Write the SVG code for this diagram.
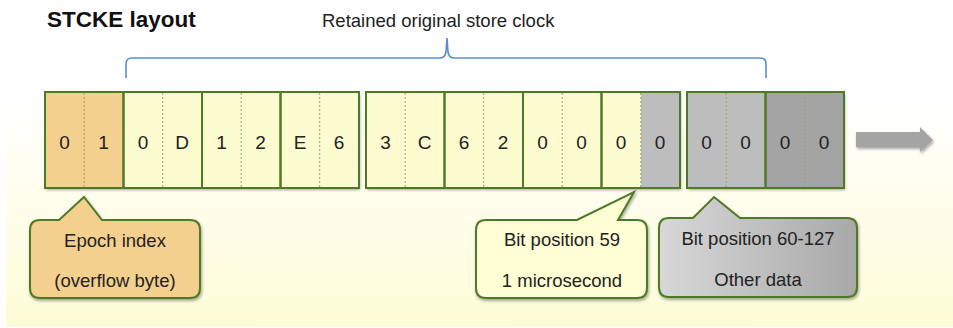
<svg xmlns="http://www.w3.org/2000/svg" width="953" height="328" viewBox="0 0 953 328">
<defs>
<linearGradient id="bg" x1="0" y1="0" x2="0" y2="1">
<stop offset="0" stop-color="#ffffff"/>
<stop offset="0.3" stop-color="#ffffff"/>
<stop offset="1" stop-color="#fdfcd6"/>
</linearGradient>
<linearGradient id="grayCall" x1="0" y1="0" x2="1" y2="0">
<stop offset="0" stop-color="#d8d8d8"/>
<stop offset="1" stop-color="#a8a8a8"/>
</linearGradient>
<filter id="sh" x="-10%" y="-10%" width="130%" height="130%">
<feDropShadow dx="1" dy="2" stdDeviation="1.5" flood-color="#000" flood-opacity="0.35"/>
</filter>
<style>
.byte{stroke:#4e7a27;stroke-width:2}
.div{stroke:#8aa865;stroke-width:1;stroke-dasharray:2 2}
.or{fill:#f4d08f}
.ye{fill:#fdfbd0}
.g1{fill:#bdbdbd}
.g2{fill:#a4a4a4}
.dg{font-family:"Liberation Sans",Arial,sans-serif;font-size:19px;fill:#222;text-anchor:middle}
.lbl{font-family:"Liberation Sans",Arial,sans-serif;font-size:18.5px;fill:#222;text-anchor:middle}
.call{stroke:#4e7a27;stroke-width:2;filter:url(#sh)}
</style>
</defs>
<rect x="6" y="0" width="947" height="327" fill="url(#bg)"/>
<text x="47" y="27" font-family="Liberation Sans,Arial,sans-serif" font-size="22.5" font-weight="bold" fill="#111">STCKE layout</text>
<text x="322" y="27" font-family="Liberation Sans,Arial,sans-serif" font-size="18.5" fill="#222">Retained original store clock</text>
<g id="connectors">
<path d="M126 78 L126 64 Q126 58 132 58 L440 58 Q445 58 446 52 L447 38 L448 52 Q449 58 454 58 L760 58 Q766 58 766 64 L766 78" fill="none" stroke="#5b8ed6" stroke-width="1.6"/>
<path d="M856 132 L920 132 L920 127 L933 140 L920 152 L920 147 L856 147 Z" fill="#a4a4a4" filter="url(#sh)"/>
</g>
<g id="group1" filter="url(#sh)">
<rect x="45" y="92" width="78.5" height="96" class="or"/>
<rect x="123.5" y="92" width="235.5" height="96" class="ye"/>
</g>
<g id="group2" filter="url(#sh)">
<rect x="366" y="92" width="275" height="96" class="ye"/>
<rect x="641" y="92" width="39" height="96" class="g1"/>
</g>
<g id="group3" filter="url(#sh)">
<rect x="687" y="92" width="78.5" height="96" class="g1"/>
<rect x="765.5" y="92" width="78.5" height="96" class="g2"/>
</g>
<g id="dividers">
<line x1="84.2" y1="93" x2="84.2" y2="187" class="div"/>
<line x1="162.7" y1="93" x2="162.7" y2="187" class="div"/>
<line x1="241.2" y1="93" x2="241.2" y2="187" class="div"/>
<line x1="319.7" y1="93" x2="319.7" y2="187" class="div"/>
<line x1="405.2" y1="93" x2="405.2" y2="187" class="div"/>
<line x1="483.7" y1="93" x2="483.7" y2="187" class="div"/>
<line x1="562.2" y1="93" x2="562.2" y2="187" class="div"/>
<line x1="640.7" y1="93" x2="640.7" y2="187" class="div"/>
<line x1="726.2" y1="93" x2="726.2" y2="187" class="div"/>
<line x1="804.7" y1="93" x2="804.7" y2="187" class="div"/>
</g>
<g id="byte01"><rect x="45" y="92" width="78.5" height="96" fill="none" class="byte"/><text x="64.5" y="149" class="dg">0</text><text x="103.5" y="149" class="dg">1</text></g>
<g id="byte0D"><rect x="123.5" y="92" width="78.5" height="96" fill="none" class="byte"/><text x="143" y="149" class="dg">0</text><text x="182" y="149" class="dg">D</text></g>
<g id="byte12"><rect x="202" y="92" width="78.5" height="96" fill="none" class="byte"/><text x="221.5" y="149" class="dg">1</text><text x="260.5" y="149" class="dg">2</text></g>
<g id="byteE6"><rect x="280.5" y="92" width="78.5" height="96" fill="none" class="byte"/><text x="300" y="149" class="dg">E</text><text x="339" y="149" class="dg">6</text></g>
<g id="byte3C"><rect x="366" y="92" width="78.5" height="96" fill="none" class="byte"/><text x="385.5" y="149" class="dg">3</text><text x="424.5" y="149" class="dg">C</text></g>
<g id="byte62"><rect x="444.5" y="92" width="78.5" height="96" fill="none" class="byte"/><text x="464" y="149" class="dg">6</text><text x="503" y="149" class="dg">2</text></g>
<g id="byte00a"><rect x="523" y="92" width="78.5" height="96" fill="none" class="byte"/><text x="542.5" y="149" class="dg">0</text><text x="581.5" y="149" class="dg">0</text></g>
<g id="byte00b"><rect x="601.5" y="92" width="78.5" height="96" fill="none" class="byte"/><text x="621" y="149" class="dg">0</text><text x="660" y="149" class="dg">0</text></g>
<g id="byte00c"><rect x="687" y="92" width="78.5" height="96" fill="none" class="byte"/><text x="706.5" y="149" class="dg">0</text><text x="745.5" y="149" class="dg">0</text></g>
<g id="byte00d"><rect x="765.5" y="92" width="78.5" height="96" fill="none" class="byte"/><text x="785" y="149" class="dg">0</text><text x="824" y="149" class="dg">0</text></g>
<g id="epoch">
<path d="M40 220 L59 220 L84 197 L102 220 L190 220 Q200 220 200 230 L200 288 Q200 298 190 298 L40 298 Q30 298 30 288 L30 230 Q30 220 40 220 Z" fill="#f4d08f" class="call"/>
<text x="115" y="247" class="lbl">Epoch index</text>
<text x="115" y="287" class="lbl">(overflow byte)</text>
</g>
<g id="bit59">
<path d="M486 220 L577 220 L634 192 L618 220 L637 220 Q647 220 647 230 L647 288 Q647 298 637 298 L486 298 Q476 298 476 288 L476 230 Q476 220 486 220 Z" fill="#fefdd4" class="call"/>
<text x="562" y="246" class="lbl">Bit position 59</text>
<text x="562" y="287" class="lbl">1 microsecond</text>
</g>
<g id="bit60">
<path d="M669 218 L693 218 L714 197 L740 218 L847 218 Q857 218 857 228 L857 287 Q857 297 847 297 L669 297 Q659 297 659 287 L659 228 Q659 218 669 218 Z" fill="url(#grayCall)" class="call"/>
<text x="758" y="245" class="lbl">Bit position 60-127</text>
<text x="758" y="286" class="lbl">Other data</text>
</g>
</svg>
